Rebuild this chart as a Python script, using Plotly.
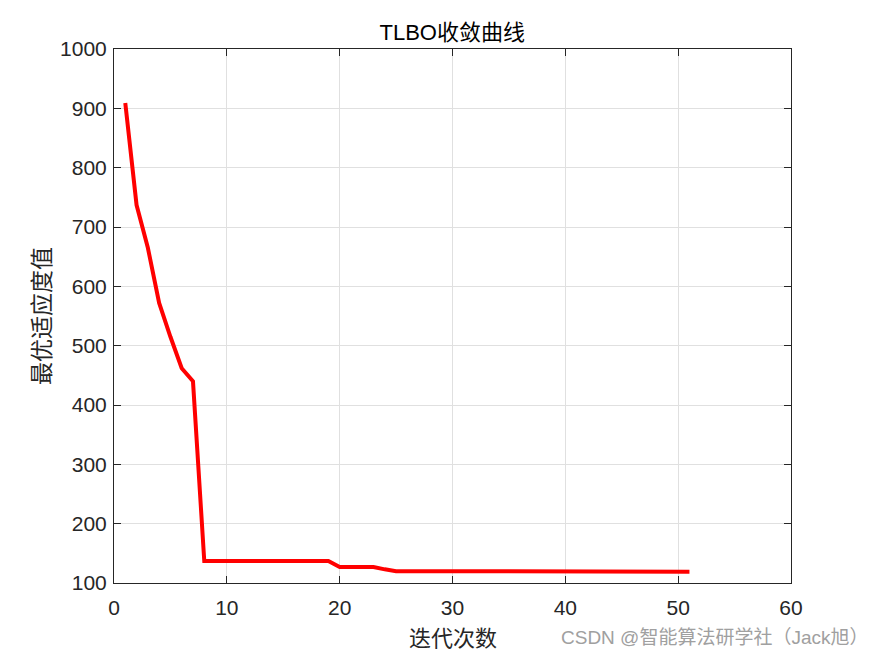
import plotly.graph_objects as go

iterations = list(range(1, 52))
fitness = [909, 737, 665, 572, 515, 462, 440, 137, 137, 137,
           137, 137, 137, 137, 137, 137, 137, 137, 137, 127,
           127, 127, 127, 123, 120, 120, 120, 120, 120, 120,
           120, 120, 120, 120, 120, 120, 120, 120, 120, 120,
           120, 120, 120, 120, 120, 120, 120, 120, 119, 119, 119]

title_text = "TLBO收敛曲线"
x_label = "迭代次数"
y_label = "最优适应度值"
watermark = "CSDN @智能算法研学社（Jack旭）"

FONT = "Liberation Sans, Arial, Noto Sans CJK SC, sans-serif"
CJK = "Noto Sans CJK SC, sans-serif"

fig = go.Figure()
fig.add_trace(go.Scatter(x=iterations, y=fitness, mode="lines",
                         line=dict(color="#ff0000", width=4), showlegend=False))

axis_common = dict(showline=True, linecolor="#262626", linewidth=1, mirror="ticks",
                   ticks="inside", ticklen=7, tickcolor="#262626",
                   showgrid=True, gridcolor="#e0e0e0", gridwidth=1, zeroline=False,
                   tickfont=dict(family=FONT, size=21, color="#262626"))

fig.update_xaxes(range=[0, 60], dtick=10, ticklabelstandoff=6, automargin=False, **axis_common)
fig.update_yaxes(range=[100, 1000], dtick=100, ticklabelstandoff=2, automargin=False, **axis_common)

fig.update_layout(
    width=875, height=656,
    margin=dict(l=114, r=84, t=49, b=73, autoexpand=False),
    paper_bgcolor="white", plot_bgcolor="white",
    title=dict(text=title_text, x=0.5168, xanchor="center", y=1 - 32/656, yanchor="middle",
               font=dict(family=FONT, size=22, color="black")),
    annotations=[
        dict(text=x_label, xref="paper", yref="paper", x=0.5, y=(583 - 636) / 534,
             xanchor="center", yanchor="middle", showarrow=False,
             font=dict(family=CJK, size=22, color="#262626")),
        dict(text=y_label, xref="paper", yref="paper", x=(40 - 114) / 677, y=0.5,
             xanchor="center", yanchor="middle", textangle=-90, showarrow=False,
             font=dict(family=CJK, size=23, color="#262626")),
        dict(text=watermark, xref="paper", yref="paper", x=(870 - 114) / 677,
             y=(583 - 637) / 534, xanchor="right", yanchor="middle", showarrow=False,
             font=dict(family=FONT, size=19, color="#a0a0a0")),
    ],
)

fig.write_html("out.html", config={"displayModeBar": False},
               post_script="document.body.style.margin='0';document.body.style.overflow='hidden';")
